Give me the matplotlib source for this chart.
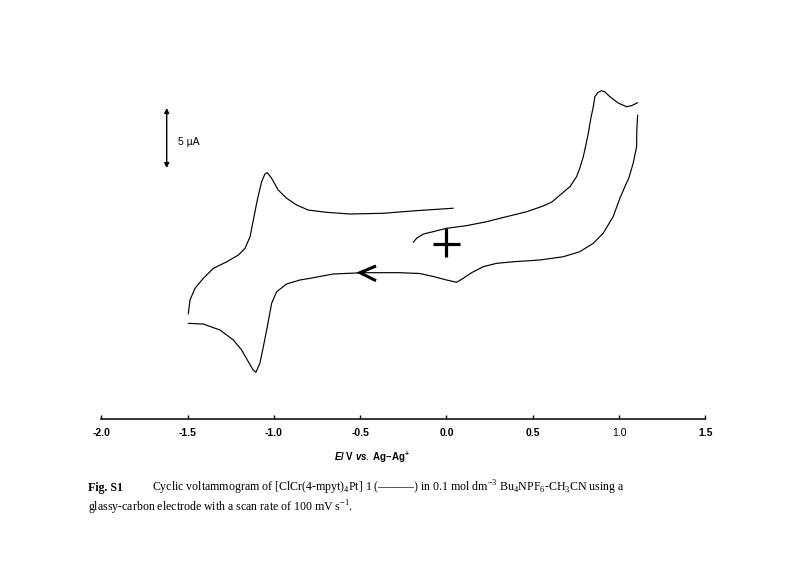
import matplotlib
matplotlib.use("Agg")
import matplotlib.pyplot as plt

plt.rcParams['mathtext.fontset'] = 'custom'
plt.rcParams['mathtext.rm'] = 'Liberation Serif'
plt.rcParams['mathtext.it'] = 'Liberation Sans:italic:bold'
plt.rcParams['mathtext.bf'] = 'Liberation Sans:bold'

# ---- data (E / V vs. Ag-Ag+, I / uA) ----
E_fwd = [-0.192, -0.173, -0.134, -0.076, 0.001, 0.117, 0.233, 0.349, 0.465, 0.561, 0.611,
         0.658, 0.716, 0.754, 0.773, 0.793, 0.808, 0.822, 0.837, 0.851, 0.860, 0.878,
         0.899, 0.918, 0.947, 0.995, 1.044, 1.075, 1.108]
I_fwd = [0.14, 0.48, 0.83, 1.03, 1.31, 1.53, 1.86, 2.28, 2.69, 3.17, 3.50,
         4.08, 4.78, 5.61, 6.33, 7.28, 8.25, 9.22, 10.5, 11.44, 12.28, 12.63,
         12.78, 12.67, 12.28, 11.75, 11.44, 11.54, 11.78]

E_rev = [1.108, 1.103, 1.102, 1.082, 1.057, 1.034, 1.005, 0.966, 0.908, 0.851, 0.773,
         0.677, 0.542, 0.387, 0.291, 0.213, 0.146, 0.097, 0.059, 0.001, -0.076, -0.154,
         -0.269, -0.482, -0.656, -0.791, -0.849, -0.926, -0.984, -1.013, -1.038, -1.061,
         -1.081, -1.104, -1.120, -1.148, -1.187, -1.235, -1.312, -1.409, -1.496]
I_rev = [10.75, 9.5, 8.11, 6.73, 5.5, 4.78, 3.81, 2.28, 0.89, 0.06, -0.64,
         -1.06, -1.33, -1.48, -1.61, -1.89, -2.39, -2.86, -3.19, -3.00, -2.71, -2.46,
         -2.39, -2.39, -2.50, -2.86, -3.00, -3.33, -3.98, -4.94, -6.89, -8.56,
         -9.94, -10.69, -10.50, -9.81, -8.83, -8.00, -7.17, -6.67, -6.61]

E_ret = [-1.496, -1.486, -1.457, -1.409, -1.351, -1.273, -1.206, -1.167, -1.138, -1.119,
         -1.096, -1.071, -1.052, -1.038, -1.013, -0.975, -0.926, -0.868, -0.801, -0.694,
         -0.559, -0.366, -0.173, 0.039]
I_ret = [-5.83, -4.67, -3.69, -2.86, -2.03, -1.48, -0.92, -0.36, 0.61, 2.00,
         3.67, 5.19, 5.83, 5.94, 5.48, 4.50, 3.81, 3.25, 2.83, 2.64,
         2.50, 2.56, 2.78, 2.98]

xticks = [-2.0, -1.5, -1.0, -0.5, 0.0, 0.5, 1.0, 1.5]
xticklabels = ["-2.0", "-1.5", "-1.0", "-0.5", "0.0", "0.5", "1.0", "1.5"]

fig = plt.figure(figsize=(8.0, 5.81), dpi=100)
ax = fig.add_axes([101.3 / 800, (581 - 419.3) / 581, 604 / 800, (419.3 - 80) / 581])
ax.set_xlim(-2.0, 1.5)
ax.set_ylim(-14.608, 13.667)

lw = 0.85
for E, I in [(E_fwd, I_fwd), (E_rev, I_rev), (E_ret, I_ret)]:
    ax.plot(E, I, color='black', lw=lw, solid_capstyle='round', solid_joinstyle='round')

# cross at origin
ax.plot([-0.078, 0.078], [0, 0], color='black', lw=2.3, solid_capstyle='butt')
ax.plot([0, 0], [1.33, -1.08], color='black', lw=2.3, solid_capstyle='butt')

# scan direction chevron
ax.plot([-0.408, -0.501, -0.408], [-1.83, -2.39, -3.06], color='black', lw=2.2,
        solid_joinstyle='miter', solid_capstyle='butt')

# scale bar 5 uA
ax.annotate('', xy=(-1.621, 11.33), xytext=(-1.621, 6.33),
            arrowprops=dict(arrowstyle='<|-|>', color='black', lw=1.0,
                            mutation_scale=7, shrinkA=0, shrinkB=0))
ax.text(-1.556, 8.5, '5 µA', fontsize=7.5, family=['Liberation Sans', 'DejaVu Sans'],
        va='center', ha='left')

for s in ['left', 'top', 'right']:
    ax.spines[s].set_visible(False)
ax.spines['bottom'].set_linewidth(1.1)
ax.set_yticks([])
ax.set_xticks(xticks)
ax.set_xticklabels(xticklabels)
ax.tick_params(axis='x', direction='in', length=3, width=1.0, pad=6, labelsize=7.5)
for lab in ax.get_xticklabels():
    lab.set_family('Liberation Sans')
    lab.set_fontweight('normal' if lab.get_text() == '1.0' else 'bold')

# x label
fig.text(372 / 800, 1 - 457 / 581,
         r'$E$/ V $vs.$ Ag–Ag$^{\mathbf{+}}$', ha='center', va='center', fontsize=7,
         fontweight='bold', family='Liberation Sans')

# caption
cap_kw = dict(fontsize=8.55, family='Liberation Serif', va='center', ha='left')
fig.text(88 / 800, 1 - 488 / 581, 'Fig. S1', fontweight='bold', **cap_kw)
fig.text(151.7 / 800, 1 - 488 / 581,
         r'Cyclic voltammogram of [ClCr(4-mpyt)$_4$Pt] 1 (———) in 0.1 mol dm$^{-3}$ '
         r'Bu$_4$NPF$_6$-CH$_3$CN using a', **cap_kw)
fig.text(88 / 800, 1 - 508 / 581,
         r'glassy-carbon electrode with a scan rate of 100 mV s$^{-1}$.', **cap_kw)

fig.savefig('out.png', dpi=100, facecolor='white')
